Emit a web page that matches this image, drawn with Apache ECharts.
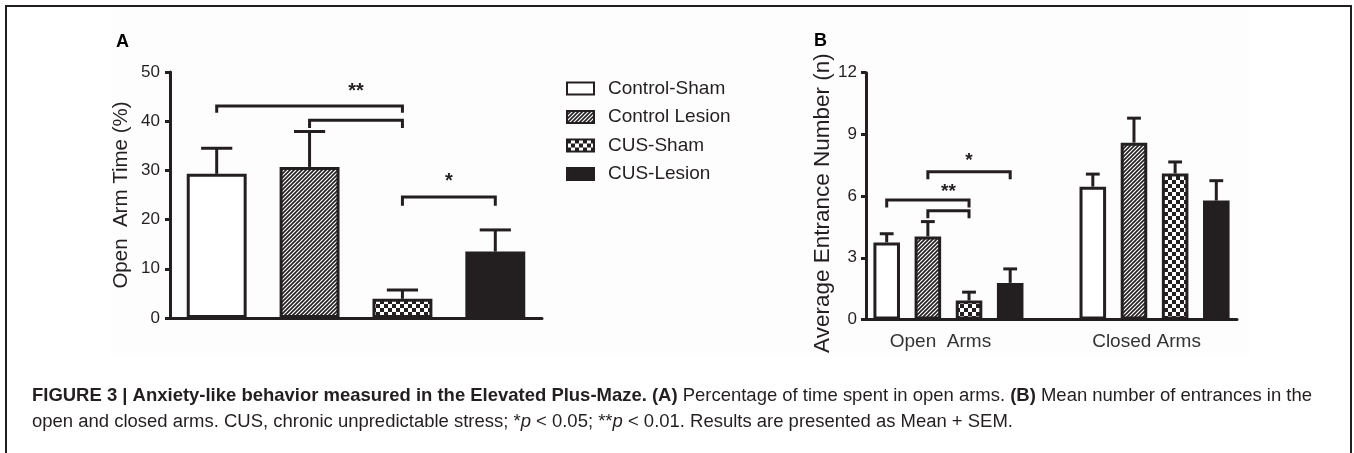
<!DOCTYPE html>
<html><head><meta charset="utf-8">
<script src="https://cdn.jsdelivr.net/npm/echarts@6/dist/echarts.min.js"></script>
<style>html,body{margin:0;padding:0;background:#fff}#c{width:1354px;height:453px}</style>
</head><body><div id="c"></div>
<script>
// ---------- DATA ----------
const groupNames = ['Control-Sham', 'Control Lesion', 'CUS-Sham', 'CUS-Lesion'];
// Panel A: Open arm time (%)
const openArmTimeMean = [29.3, 30.7, 3.9, 13.5];
const openArmTimeSem  = [5.2, 7.2, 1.8, 4.4];
const ticksA = [0, 10, 20, 30, 40, 50];
// Panel B: Average entrance number (n)
const armCategories = ['Open  Arms', 'Closed Arms'];
const entranceMeanOpen   = [3.75, 4.04, 0.92, 1.78];
const entranceSemOpen    = [0.42, 0.72, 0.41, 0.68];
const entranceMeanClosed = [6.46, 8.60, 7.10, 5.78];
const entranceSemClosed  = [0.61, 1.19, 0.56, 0.97];
const ticksB = [0, 3, 6, 9, 12];
// Significance brackets: [categoryIndex, fromGroup, toGroup, bracketY, dropY, label, labelY]
const sigA = [[0, 0, 2, 43.1, 41.7, '', 0], [0, 1, 2, 40.2, 38.6, '**', 47.0], [0, 2, 3, 24.6, 22.8, '*', 28.7]];
const sigB = [[0, 0, 2, 5.81, 5.44, '', 0], [0, 1, 2, 5.29, 4.92, '**', 6.46], [0, 1, 3, 7.19, 6.82, '*', 7.95]];

// ---------- STYLE ----------
const ink = '#231f20';
const FONT = "'Liberation Sans', Arial, Helvetica, sans-serif";
const catGapA = 0.09, barGapA = 0.55;
const catGapB = 0.272, barGapB = 0.55;
const BW = 3;

function makePattern(kind) {
  const c = document.createElement('canvas');
  const g = c.getContext('2d');
  if (kind === 'hatch') {
    c.width = c.height = 4;
    g.fillStyle = '#fff'; g.fillRect(0, 0, 4, 4);
    g.strokeStyle = ink; g.lineWidth = 1.6;
    g.beginPath();
    g.moveTo(0, 4); g.lineTo(4, 0);
    g.moveTo(-1, 1); g.lineTo(1, -1);
    g.moveTo(3, 5); g.lineTo(5, 3);
    g.stroke();
  } else {
    c.width = c.height = 8;
    g.fillStyle = '#fff'; g.fillRect(0, 0, 8, 8);
    g.fillStyle = ink; g.fillRect(0, 0, 4, 4); g.fillRect(4, 4, 4, 4);
  }
  return { image: c, repeat: 'repeat' };
}
const fills = ['#ffffff', makePattern('hatch'), makePattern('checker'), ink];

function barCenter(api, xVal, gi, n, catGap, barGap) {
  const band = api.size([1, 0])[0];
  const remained = band * (1 - catGap);
  const w = remained / (n + (n - 1) * barGap);
  const c = api.coord([xVal, 0])[0];
  return { cx: c - remained / 2 + gi * w * (1 + barGap) + w / 2, w };
}

function errSeries(xi, yi, gi, data, catGap, barGap) {
  return {
    type: 'custom', xAxisIndex: xi, yAxisIndex: yi, silent: true, z: 3,
    encode: { x: 0, y: [1] },
    data,
    renderItem(params, api) {
      const x = api.value(0), m = api.value(1), s = api.value(2);
      const b = barCenter(api, x, gi, groupNames.length, catGap, barGap);
      const y0 = api.coord([x, m])[1];
      const y1 = api.coord([x, m + s])[1];
      const half = b.w * 0.52 / 2;
      return { type: 'group', children: [
        { type: 'line', shape: { x1: b.cx, y1: y0, x2: b.cx, y2: y1 }, style: { stroke: ink, lineWidth: BW } },
        { type: 'line', shape: { x1: b.cx - half, y1: y1, x2: b.cx + half, y2: y1 }, style: { stroke: ink, lineWidth: BW } }
      ]};
    }
  };
}

function sigSeries(xi, yi, sig, xPos, catGap, barGap, fs) {
  return {
    type: 'custom', xAxisIndex: xi, yAxisIndex: yi, silent: true, z: 4,
    encode: { x: 0, y: 1 },
    data: sig.map(s => [xPos(s[0]), s[3]]),
    renderItem(params, api) {
      const s = sig[params.dataIndex];
      const x = api.value(0);
      const n = groupNames.length;
      const x1 = barCenter(api, x, s[1], n, catGap, barGap).cx;
      const x2 = barCenter(api, x, s[2], n, catGap, barGap).cx;
      const yb = api.coord([x, s[3]])[1];
      const yd = api.coord([x, s[4]])[1];
      const children = [{ type: 'polyline', shape: { points: [[x1, yd], [x1, yb], [x2, yb], [x2, yd]] },
        style: { stroke: ink, lineWidth: BW, fill: null } }];
      if (s[5]) {
        children.push({ type: 'text', x: (x1 + x2) / 2, y: api.coord([x, s[6]])[1] + fs * 0.25,
          style: { text: s[5], fill: ink, fontSize: fs, fontWeight: 'bold', fontFamily: FONT, align: 'center', verticalAlign: 'middle' } });
      }
      return { type: 'group', children };
    }
  };
}

const seriesA = groupNames.map((name, i) => ({
  type: 'bar', name, xAxisIndex: 0, yAxisIndex: 0,
  data: [openArmTimeMean[i]],
  barGap: (barGapA * 100) + '%', barCategoryGap: (catGapA * 100) + '%',
  itemStyle: { color: fills[i], borderColor: ink, borderWidth: BW },
  emphasis: { disabled: true }
}));
const posB = k => k + 1;
const seriesB = groupNames.map((name, i) => ({
  type: 'bar', name, xAxisIndex: 1, yAxisIndex: 1,
  data: armCategories.map((_, k) => [posB(k), [entranceMeanOpen, entranceMeanClosed][k][i]]),
  barGap: (barGapB * 100) + '%', barCategoryGap: (catGapB * 100) + '%',
  itemStyle: { color: fills[i], borderColor: ink, borderWidth: BW },
  emphasis: { disabled: true }
}));
const errA = groupNames.map((_, i) => errSeries(0, 0, i, [[0, openArmTimeMean[i], openArmTimeSem[i]]], catGapA, barGapA));
const errB = groupNames.map((_, i) => errSeries(1, 1, i, [
  [posB(0), entranceMeanOpen[i], entranceSemOpen[i]],
  [posB(1), entranceMeanClosed[i], entranceSemClosed[i]]
], catGapB, barGapB));

// ---------- CAPTION ----------
const cap1 = [
  ['FIGURE 3 | Anxiety-like behavior measured in the Elevated Plus-Maze. (A)', 'b'],
  [' Percentage of time spent in open arms. ', 'r'],
  ['(B)', 'b'],
  [' Mean number of entrances in the', 'r']
];
const cap2 = [
  ['open and closed arms. CUS, chronic unpredictable stress; *', 'r'],
  ['p', 'i'], [' < 0.05; **', 'r'], ['p', 'i'],
  [' < 0.01. Results are presented as Mean + SEM.', 'r']
];
const CAPFONT = "'Liberation Sans', Arial, sans-serif";
function measure(segs) {
  const ctx = document.createElement('canvas').getContext('2d');
  let w = 0;
  segs.forEach(s => {
    ctx.font = (s[1] === 'i' ? 'italic ' : '') + (s[1] === 'b' ? 'bold ' : '') + '100px ' + CAPFONT;
    w += ctx.measureText(s[0]).width;
  });
  return w;
}
const capSize = 100 * 1281 / measure(cap1);
function richCap(segs) { return segs.map(s => '{' + s[1] + '|' + s[0] + '}').join(''); }
const capRich = {
  b: { fontWeight: 'bold', fontSize: capSize, fontFamily: CAPFONT, fill: ink },
  r: { fontSize: capSize, fontFamily: CAPFONT, fill: ink },
  i: { fontStyle: 'italic', fontSize: capSize, fontFamily: CAPFONT, fill: ink }
};

const axisLineStyle = { color: ink, width: BW };
const chart = echarts.init(document.getElementById('c'), null, { renderer: 'canvas' });
chart.setOption({
  animation: false,
  backgroundColor: '#ffffff',
  textStyle: { fontFamily: FONT, color: ink },
  grid: [
    { left: 170, top: 72, width: 372, height: 246 },
    { left: 866, top: 72.7, width: 371, height: 246.8 }
  ],
  legend: {
    orient: 'vertical', left: 566, top: 79, padding: 0,
    itemWidth: 27, itemHeight: 12, itemGap: 9.5, icon: 'rect',
    data: groupNames, selectedMode: false,
    textStyle: { fontSize: 19, color: ink, fontFamily: FONT, padding: [0, 0, 0, 9] }
  },
  xAxis: [
    { gridIndex: 0, type: 'category', data: [''],
      axisLine: { lineStyle: axisLineStyle },
      axisTick: { alignWithLabel: true, length: 9, lineStyle: axisLineStyle },
      axisLabel: { show: false }, splitLine: { show: false } },
    { gridIndex: 1, type: 'value', min: 0.6, max: 2.4,
      axisLine: { onZero: false, lineStyle: axisLineStyle },
      axisTick: { show: false }, splitLine: { show: false },
      axisLabel: { customValues: armCategories.map((_, k) => posB(k)),
        formatter: v => armCategories[Math.round(v) - 1] || '',
        fontSize: 19, color: '#333', margin: 13, padding: [0, 16, 0, 0], fontFamily: FONT } }
  ],
  yAxis: [
    { gridIndex: 0, type: 'value', min: ticksA[0], max: ticksA[ticksA.length - 1], interval: ticksA[1] - ticksA[0],
      name: 'Open  Arm Time (%)', nameLocation: 'middle', nameGap: 38,
      nameTextStyle: { fontSize: 20.5, color: ink, fontFamily: FONT },
      axisLine: { show: true, onZero: false, lineStyle: axisLineStyle },
      axisTick: { show: true, length: 5, lineStyle: axisLineStyle },
      axisLabel: { fontSize: 17, color: ink, margin: 10, fontFamily: FONT },
      splitLine: { show: false } },
    { gridIndex: 1, type: 'value', min: ticksB[0], max: ticksB[ticksB.length - 1], interval: ticksB[1] - ticksB[0],
      name: 'Average Entrance Number (n)', nameLocation: 'middle', nameGap: 31,
      nameTextStyle: { fontSize: 22.5, color: ink, fontFamily: FONT, padding: [0, 14, 0, 0] },
      axisLine: { show: true, onZero: false, lineStyle: axisLineStyle },
      axisTick: { show: true, length: 5, lineStyle: axisLineStyle },
      axisLabel: { fontSize: 17, color: ink, margin: 9, fontFamily: FONT },
      splitLine: { show: false } }
  ],
  graphic: [
    { type: 'rect', z: -10, silent: true, shape: { x: 110, y: 8, width: 1140, height: 347 }, style: { fill: '#fdfdfd' } },
    { type: 'rect', z: 10, silent: true, shape: { x: 6, y: 6, width: 1345, height: 470 }, style: { fill: null, stroke: ink, lineWidth: 2 } },
    { type: 'text', left: 116, top: 33, style: { text: 'A', font: 'bold 18px ' + FONT, fill: '#000' } },
    { type: 'text', left: 814, top: 32, style: { text: 'B', font: 'bold 18px ' + FONT, fill: '#000' } },
    { type: 'text', x: 32, y: 396, style: { text: richCap(cap1), rich: capRich, verticalAlign: 'middle', align: 'left' } },
    { type: 'text', x: 32, y: 422, style: { text: richCap(cap2), rich: capRich, verticalAlign: 'middle', align: 'left' } }
  ],
  series: [...seriesA, ...seriesB, ...errA, ...errB,
    sigSeries(0, 0, sigA, k => k, catGapA, barGapA, 20),
    sigSeries(1, 1, sigB, posB, catGapB, barGapB, 19)]
});
</script>
</body></html>
